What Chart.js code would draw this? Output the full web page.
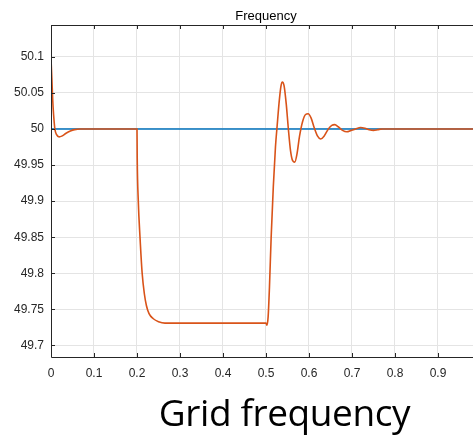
<!DOCTYPE html>
<html>
<head>
<meta charset="utf-8">
<script src="https://cdn.jsdelivr.net/npm/chart.js@4/dist/chart.umd.min.js"></script>
<style>
  html, body { margin: 0; padding: 0; background: #fff; overflow: hidden; }
  #wrap { position: relative; width: 473px; height: 440px; }
  #chart { position: absolute; left: 0; top: 0; }
  #caption {
    position: absolute; left: 0; width: 569px; top: 386px;
    text-align: center; font-family: "Open Sans", sans-serif; font-size: 37px;
    letter-spacing: -0.4px; color: #000; white-space: nowrap;
  }
</style>
</head>
<body>
<div id="wrap">
  <canvas id="chart" width="473" height="390"></canvas>
  <div id="caption">Grid frequency</div>
</div>
<script>
// time axis (s) and measured grid frequency (Hz)
const times = [
  0, 0.002, 0.004, 0.006, 0.009, 0.013, 0.019, 0.025, 0.035, 0.045, 0.055, 0.067,
  0.2, 0.2005, 0.203, 0.207, 0.212, 0.217, 0.222, 0.228, 0.238, 0.25, 0.265,
  0.5, 0.502, 0.505, 0.508, 0.512, 0.517, 0.522, 0.526, 0.531, 0.535, 0.538, 0.542,
  0.547, 0.552, 0.557, 0.562, 0.567, 0.572, 0.578, 0.585, 0.592, 0.598, 0.605,
  0.612, 0.62, 0.627, 0.635, 0.645, 0.653, 0.66, 0.668, 0.678, 0.688, 0.698,
  0.708, 0.72, 0.73, 0.74, 0.75, 0.76, 0.77, 1.0
];
const gridFreq = [
  50.097, 50.07, 50.04, 50.02, 50.0, 49.992, 49.989, 49.99, 49.994, 49.997, 49.999, 50.0,
  50.0, 49.96, 49.9, 49.85, 49.8, 49.772, 49.755, 49.744, 49.737, 49.733, 49.731,
  49.731, 49.728, 49.74, 49.78, 49.85, 49.92, 49.975, 50.005, 50.04, 50.06, 50.065, 50.06,
  50.035, 50.0, 49.97, 49.956, 49.954, 49.965, 49.99, 50.01, 50.02, 50.021, 50.015,
  50.002, 49.99, 49.986, 49.99, 50.0, 50.005, 50.006, 50.003, 49.998, 49.996, 49.998,
  50.0, 50.002, 50.001, 49.999, 49.998, 49.999, 50.0, 50.0
];
const nominalTimes = [0, 1];
const nominalFreq = [50, 50];

const xTicks = [0, 0.1, 0.2, 0.3, 0.4, 0.5, 0.6, 0.7, 0.8, 0.9];
const yTicks = [49.7, 49.75, 49.8, 49.85, 49.9, 49.95, 50, 50.05, 50.1];

const axisColor = "#262626";
const tickFont = { family: "'Liberation Sans', Arial, sans-serif", size: 12 };
const fmt = (v) => String(Math.round(v * 1000) / 1000);

// matlab-like box: top/left/bottom lines, inward ticks, title over the plot
const boxPlugin = {
  id: "box",
  afterDraw(chart) {
    const { ctx, chartArea: a, scales } = chart;
    ctx.save();
    ctx.strokeStyle = axisColor;
    ctx.lineWidth = 1;
    ctx.beginPath();
    ctx.moveTo(a.right + 5, a.top + 0.5);
    ctx.lineTo(a.left + 0.5, a.top + 0.5);
    ctx.lineTo(a.left + 0.5, a.bottom + 0.5);
    ctx.lineTo(a.right + 5, a.bottom + 0.5);
    xTicks.forEach((v) => {
      const x = Math.round(scales.x.getPixelForValue(v)) + 0.5;
      ctx.moveTo(x, a.bottom); ctx.lineTo(x, a.bottom - 4);
      ctx.moveTo(x, a.top); ctx.lineTo(x, a.top + 4);
    });
    yTicks.forEach((v) => {
      const y = Math.round(scales.y.getPixelForValue(v)) + 0.5;
      ctx.moveTo(a.left, y); ctx.lineTo(a.left + 4, y);
    });
    ctx.stroke();

    ctx.fillStyle = "#000";
    ctx.font = "13px 'Liberation Sans', Arial, sans-serif";
    ctx.textAlign = "center";
    ctx.textBaseline = "alphabetic";
    ctx.fillText("Frequency", scales.x.getPixelForValue(0.5), a.top - 5);
    ctx.restore();
  }
};

new Chart(document.getElementById("chart"), {
  type: "line",
  data: {
    datasets: [
      {
        label: "Frequency",
        data: times.map((t, i) => ({ x: t, y: gridFreq[i] })),
        borderColor: "#D95319",
        borderWidth: 1.6,
        pointRadius: 0,
        cubicInterpolationMode: "monotone",
        order: 1
      },
      {
        label: "Nominal",
        data: nominalTimes.map((t, i) => ({ x: t, y: nominalFreq[i] })),
        borderColor: "#0072BD",
        borderWidth: 1.6,
        pointRadius: 0,
        order: 2
      }
    ]
  },
  options: {
    responsive: false,
    animation: false,
    layout: { padding: { top: 25, right: 0, left: 0, bottom: 0 } },
    plugins: { legend: { display: false }, tooltip: { enabled: false } },
    scales: {
      x: {
        type: "linear",
        min: 0,
        max: 0.9814,
        afterBuildTicks: (s) => { s.ticks = xTicks.map((v) => ({ value: v })); },
        afterFit: (s) => { s.height = 33; },
        grid: { color: "#e4e4e4", drawTicks: false },
        border: { display: false },
        ticks: { color: axisColor, font: tickFont, padding: 9, maxRotation: 0, callback: fmt }
      },
      y: {
        min: 49.684,
        max: 50.144,
        afterBuildTicks: (s) => { s.ticks = yTicks.map((v) => ({ value: v })); },
        afterFit: (s) => { s.width = 51; },
        grid: { color: "#e4e4e4", drawTicks: false },
        border: { display: false },
        ticks: { color: axisColor, font: tickFont, padding: 7, callback: fmt }
      }
    }
  },
  plugins: [boxPlugin]
});
</script>
</body>
</html>
